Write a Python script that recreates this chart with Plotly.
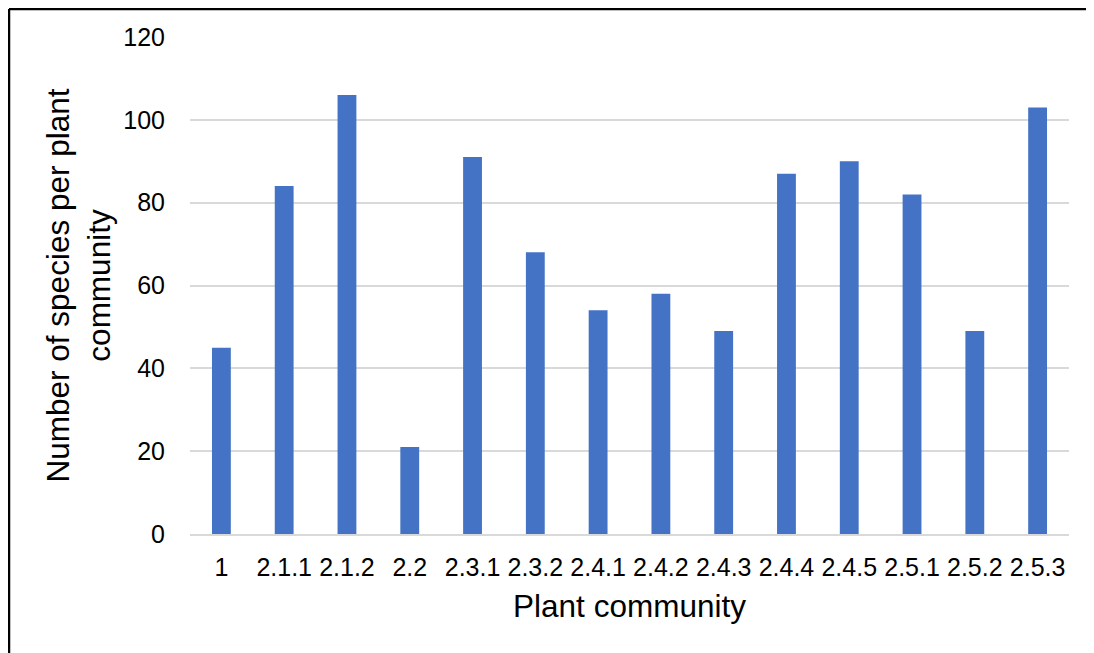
import plotly.graph_objects as go

categories = ["1", "2.1.1", "2.1.2", "2.2", "2.3.1", "2.3.2", "2.4.1", "2.4.2",
              "2.4.3", "2.4.4", "2.4.5", "2.5.1", "2.5.2", "2.5.3"]
species = [45, 84, 106, 21, 91, 68, 54, 58, 49, 87, 90, 82, 49, 103]
y_ticks = [0, 20, 40, 60, 80, 100, 120]

fig = go.Figure(go.Bar(x=categories, y=species, marker_color="#4472C4",
                       marker_line_width=0))

font = "Liberation Sans, Arial, sans-serif"
border_x = -181 / 879
border_y = 1 + 28 / 497
fig.update_layout(
    width=1078, height=645,
    margin=dict(l=182, r=17, t=29, b=119),
    plot_bgcolor="white", paper_bgcolor="white",
    bargap=0.70,
    showlegend=False,
    font=dict(family=font, color="black", size=25),
    xaxis=dict(type="category", showgrid=False, showline=True, linecolor="#D9D9D9",
               linewidth=1.5, ticks="", tickfont=dict(size=25),
               ticklabelstandoff=10,
               title=dict(text="Plant community", font=dict(size=31.5), standoff=15)),
    yaxis=dict(range=[0, 120], tickvals=y_ticks, showgrid=True, gridcolor="#D9D9D9",
               gridwidth=1.5, zeroline=False, showline=False, ticks="",
               ticklabelstandoff=24, tickfont=dict(size=25),
               title=dict(text="Number of species per plant<br>community",
                          font=dict(size=31.5), standoff=3)),
    shapes=[
        dict(type="line", xref="paper", yref="paper",
             x0=border_x, x1=border_x, y0=-0.5, y1=border_y,
             line=dict(color="black", width=2.5), layer="below"),
        dict(type="line", xref="paper", yref="paper",
             x0=border_x, x1=1.3, y0=border_y, y1=border_y,
             line=dict(color="black", width=2.5), layer="below"),
    ],
)

fig.write_html("out.html")
